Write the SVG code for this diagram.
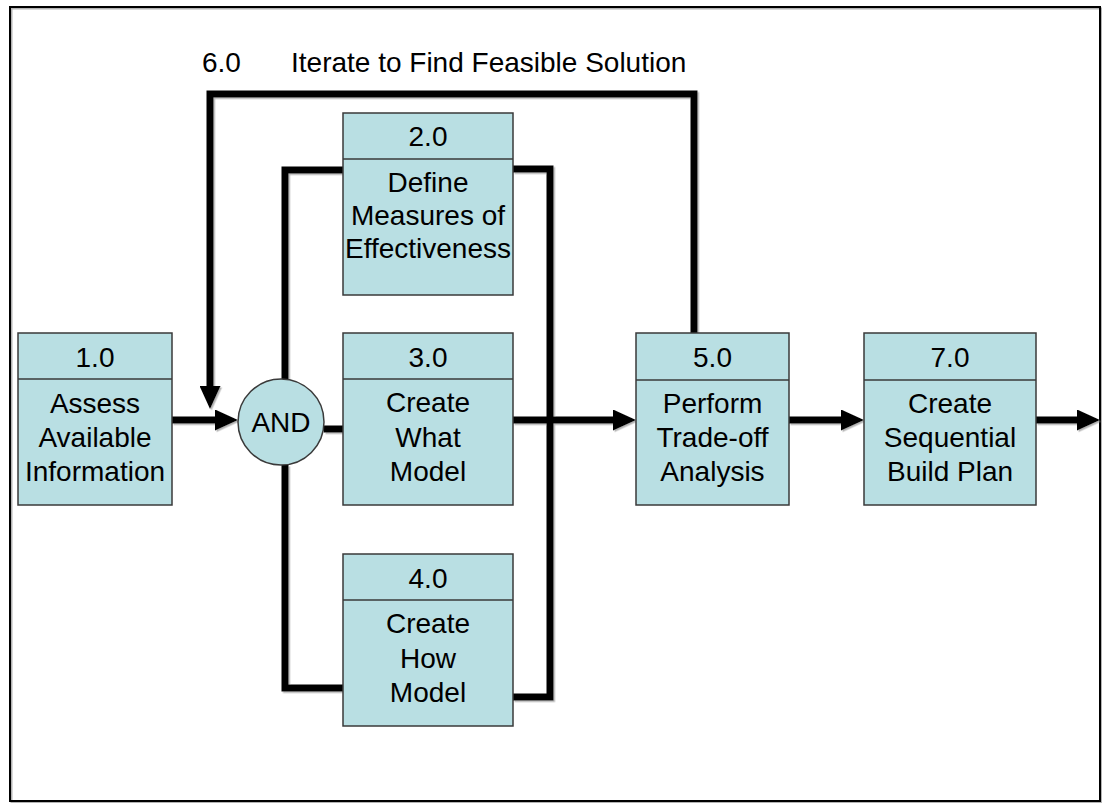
<svg xmlns="http://www.w3.org/2000/svg" width="1102" height="803" viewBox="0 0 1102 803">
<style>
.box{fill:#B9DFE3;stroke:#3a3a3a;stroke-width:1.5}
.div{stroke:#3a3a3a;stroke-width:1.5}
.t{font-family:"Liberation Sans",Arial,sans-serif;font-size:28px;fill:#000;text-anchor:middle}
.c{fill:none;stroke:#000;stroke-width:7;stroke-linejoin:miter}
</style>
<defs>
<marker id="ah" markerUnits="userSpaceOnUse" viewBox="0 0 23 21" refX="1" refY="10.5" markerWidth="23" markerHeight="21" orient="auto">
<path d="M0,0 L23,10.5 L0,21 Z" fill="#000"/>
</marker>
<filter id="sh" x="-5%" y="-5%" width="110%" height="110%">
<feDropShadow dx="1.5" dy="1.5" stdDeviation="0.5" flood-color="#808080" flood-opacity="0.6"/>
</filter>
</defs>
<rect x="0" y="0" width="1102" height="803" fill="#fff"/>
<rect x="10" y="7" width="1090" height="794" fill="none" stroke="#000" stroke-width="2" filter="url(#sh)"/>
<text class="t" x="202" y="72" style="text-anchor:start">6.0</text>
<text class="t" x="291" y="72" style="text-anchor:start">Iterate to Find Feasible Solution</text>
<g id="connectors" filter="url(#sh)">
<path class="c" d="M172,420 H216" marker-end="url(#ah)"/>
<path class="c" d="M694,333 V94 H210 V387" marker-end="url(#ah)"/>
<path class="c" d="M324,429 H343"/>
<path class="c" d="M343,170 H285 V379"/>
<path class="c" d="M285,465 V688 H343"/>
<path class="c" d="M513,169 H550 V697 H513"/>
<path class="c" d="M513,420 H614" marker-end="url(#ah)"/>
<path class="c" d="M789,420 H842" marker-end="url(#ah)"/>
<path class="c" d="M1036,420 H1078" marker-end="url(#ah)"/>
</g>
<g id="n1">
<rect class="box" x="18" y="333" width="154" height="172"/>
<line class="div" x1="18" y1="379" x2="172" y2="379"/>
<text class="t" x="95" y="367">1.0</text>
<text class="t" x="95" y="413">Assess</text>
<text class="t" x="95" y="447">Available</text>
<text class="t" x="95" y="481">Information</text>
</g>
<g id="and">
<circle cx="281" cy="422" r="43" fill="#B9DFE3" stroke="#3a3a3a" stroke-width="1.5"/>
<text class="t" x="281" y="432">AND</text>
</g>
<g id="n2">
<rect class="box" x="343" y="113" width="170" height="182"/>
<line class="div" x1="343" y1="159" x2="513" y2="159"/>
<text class="t" x="428" y="146">2.0</text>
<text class="t" x="428" y="192">Define</text>
<text class="t" x="428" y="225">Measures of</text>
<text class="t" x="428" y="258">Effectiveness</text>
</g>
<g id="n3">
<rect class="box" x="343" y="333" width="170" height="172"/>
<line class="div" x1="343" y1="379" x2="513" y2="379"/>
<text class="t" x="428" y="367">3.0</text>
<text class="t" x="428" y="412">Create</text>
<text class="t" x="428" y="447">What</text>
<text class="t" x="428" y="481">Model</text>
</g>
<g id="n4">
<rect class="box" x="343" y="554" width="170" height="172"/>
<line class="div" x1="343" y1="600" x2="513" y2="600"/>
<text class="t" x="428" y="588">4.0</text>
<text class="t" x="428" y="633">Create</text>
<text class="t" x="428" y="668">How</text>
<text class="t" x="428" y="702">Model</text>
</g>
<g id="n5">
<rect class="box" x="636" y="333" width="153" height="172"/>
<line class="div" x1="636" y1="380" x2="789" y2="380"/>
<text class="t" x="712.5" y="367">5.0</text>
<text class="t" x="712.5" y="413">Perform</text>
<text class="t" x="712.5" y="447">Trade-off</text>
<text class="t" x="712.5" y="481">Analysis</text>
</g>
<g id="n7">
<rect class="box" x="864" y="333" width="172" height="172"/>
<line class="div" x1="864" y1="380" x2="1036" y2="380"/>
<text class="t" x="950" y="367">7.0</text>
<text class="t" x="950" y="413">Create</text>
<text class="t" x="950" y="447">Sequential</text>
<text class="t" x="950" y="481">Build Plan</text>
</g>
</svg>
